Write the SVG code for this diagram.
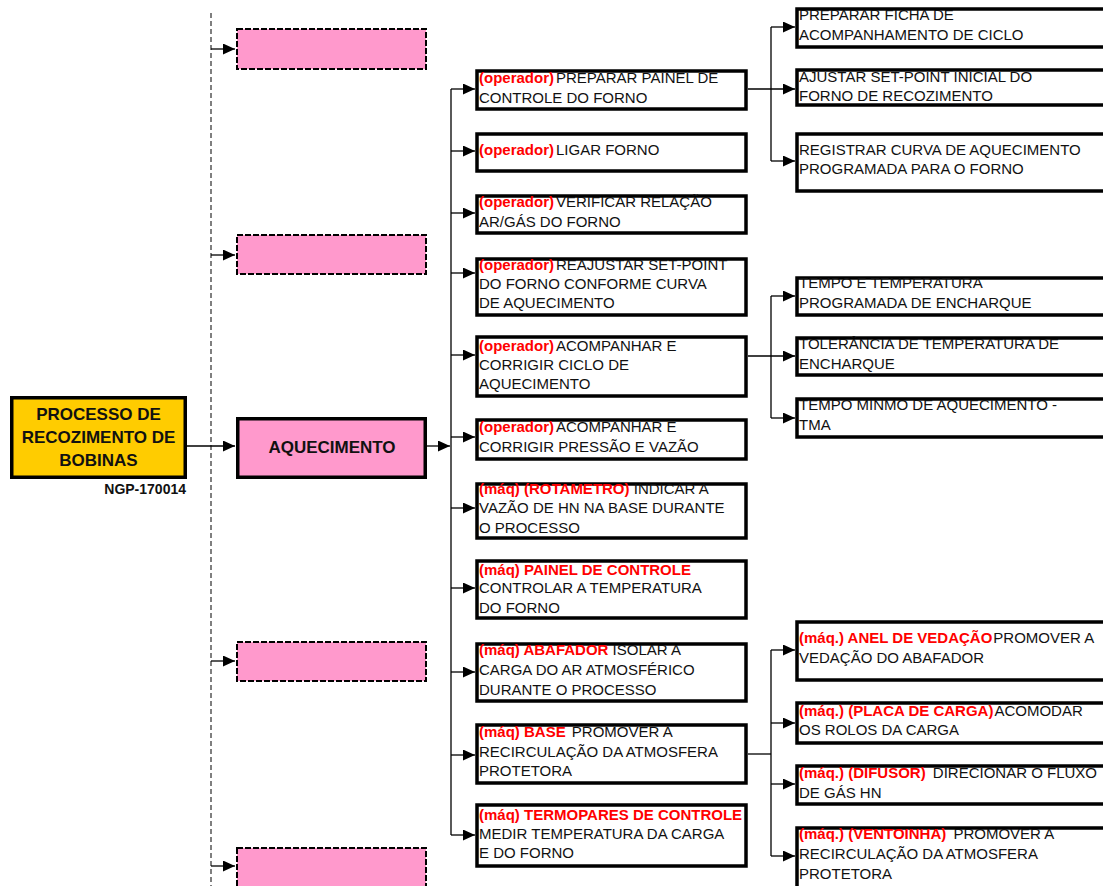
<svg xmlns="http://www.w3.org/2000/svg" width="1103" height="886" viewBox="0 0 1103 886">
<style>
text{font-family:"Liberation Sans",Arial,sans-serif;font-size:15px;fill:#111}
.r{fill:#f00;font-weight:bold}
.big{font-size:17px;font-weight:bold;text-anchor:middle;fill:#111}
.box{fill:#fff;stroke:#000;stroke-width:3.5}
.pink{fill:#ff99cc;stroke:#000;stroke-width:2;stroke-dasharray:6 2}
.c{stroke:#000;stroke-width:1.3;fill:none}
.ca{stroke:#000;stroke-width:1.3;fill:none;marker-end:url(#ah)}
</style>
<defs>
<marker id="ah" markerUnits="userSpaceOnUse" markerWidth="12" markerHeight="11" refX="12" refY="5.5" orient="auto">
<path d="M0,0 L12,5.5 L0,11 z" fill="#000"/>
</marker>
</defs>
<rect width="1103" height="886" fill="#fff"/>

<g id="connectors">
<line x1="211" y1="13" x2="211" y2="886" stroke="#555" stroke-width="1.5" stroke-dasharray="5 3"/>
<line class="ca" x1="187" y1="446" x2="235" y2="446"/>
<line class="ca" x1="211" y1="49" x2="235" y2="49"/>
<line class="ca" x1="211" y1="255" x2="235" y2="255"/>
<line class="ca" x1="211" y1="661" x2="235" y2="661"/>
<line class="ca" x1="211" y1="866" x2="235" y2="866"/>
<line class="ca" x1="427" y1="446" x2="450" y2="446"/>
<line class="c" x1="451" y1="89" x2="451" y2="835"/>
<line class="ca" x1="451" y1="89" x2="475" y2="89"/>
<line class="ca" x1="451" y1="151" x2="475" y2="151"/>
<line class="ca" x1="451" y1="213" x2="475" y2="213"/>
<line class="ca" x1="451" y1="273" x2="475" y2="273"/>
<line class="ca" x1="451" y1="355" x2="475" y2="355"/>
<line class="ca" x1="451" y1="437" x2="475" y2="437"/>
<line class="ca" x1="451" y1="508" x2="475" y2="508"/>
<line class="ca" x1="451" y1="588" x2="475" y2="588"/>
<line class="ca" x1="451" y1="672" x2="475" y2="672"/>
<line class="ca" x1="451" y1="755" x2="475" y2="755"/>
<line class="ca" x1="451" y1="835" x2="475" y2="835"/>
<line class="ca" x1="748" y1="89" x2="795" y2="89"/>
<line class="c" x1="771" y1="27" x2="771" y2="161"/>
<line class="ca" x1="771" y1="27" x2="795" y2="27"/>
<line class="ca" x1="771" y1="161" x2="795" y2="161"/>
<line class="ca" x1="748" y1="356" x2="795" y2="356"/>
<line class="c" x1="771" y1="296" x2="771" y2="418"/>
<line class="ca" x1="771" y1="296" x2="795" y2="296"/>
<line class="ca" x1="771" y1="418" x2="795" y2="418"/>
<line class="c" x1="748" y1="754" x2="771" y2="754"/>
<line class="c" x1="771" y1="650" x2="771" y2="856"/>
<line class="ca" x1="771" y1="650" x2="795" y2="650"/>
<line class="ca" x1="771" y1="723" x2="795" y2="723"/>
<line class="ca" x1="771" y1="784" x2="795" y2="784"/>
<line class="ca" x1="771" y1="856" x2="795" y2="856"/>
</g>

<g id="root">
<rect x="11.75" y="397.75" width="173.5" height="79.5" fill="#ffcc00" stroke="#000" stroke-width="3.5"/>
<text class="big" x="98.5" y="420">PROCESSO DE</text>
<text class="big" x="98.5" y="443">RECOZIMENTO DE</text>
<text class="big" x="98.5" y="466">BOBINAS</text>
<text x="186" y="494" style="font-size:14px;font-weight:bold;text-anchor:end">NGP-170014</text>
</g>

<g id="pink1"><rect class="pink" x="237" y="29" width="189" height="40"/></g>
<g id="pink2"><rect class="pink" x="237" y="235" width="189" height="39"/></g>
<g id="pink3"><rect class="pink" x="237" y="642" width="189" height="39"/></g>
<g id="pink4"><rect class="pink" x="237" y="848" width="189" height="42"/></g>

<g id="aquecimento">
<rect x="237.75" y="418.75" width="187.5" height="58.5" fill="#ff99cc" stroke="#000" stroke-width="3.5"/>
<text class="big" x="332" y="453">AQUECIMENTO</text>
</g>

<g id="m1"><rect class="box" x="477" y="71" width="269" height="38"/>
<text x="479" y="83"><tspan class="r">(operador)</tspan><tspan dx="2">PREPARAR PAINEL DE</tspan></text>
<text x="479" y="103">CONTROLE DO FORNO</text></g>
<g id="m2"><rect class="box" x="477" y="134" width="269" height="37"/>
<text x="479" y="155"><tspan class="r">(operador)</tspan><tspan dx="2">LIGAR FORNO</tspan></text></g>
<g id="m3"><rect class="box" x="477" y="196" width="269" height="37"/>
<text x="479" y="207"><tspan class="r">(operador)</tspan><tspan dx="2">VERIFICAR RELAÇÃO</tspan></text>
<text x="479" y="227">AR/GÁS DO FORNO</text></g>
<g id="m4"><rect class="box" x="477" y="259" width="269" height="56"/>
<text x="479" y="270"><tspan class="r">(operador)</tspan><tspan dx="2">REAJUSTAR SET-POINT</tspan></text>
<text x="479" y="289">DO FORNO CONFORME CURVA</text>
<text x="479" y="308">DE AQUECIMENTO</text></g>
<g id="m5"><rect class="box" x="477" y="337" width="269" height="59"/>
<text x="479" y="351"><tspan class="r">(operador)</tspan><tspan dx="2">ACOMPANHAR E</tspan></text>
<text x="479" y="370">CORRIGIR CICLO DE</text>
<text x="479" y="389">AQUECIMENTO</text></g>
<g id="m6"><rect class="box" x="477" y="420" width="269" height="39"/>
<text x="479" y="432"><tspan class="r">(operador)</tspan><tspan dx="2">ACOMPANHAR E</tspan></text>
<text x="479" y="452">CORRIGIR PRESSÃO E VAZÃO</text></g>
<g id="m7"><rect class="box" x="477" y="484" width="269" height="54"/>
<text x="479" y="494"><tspan class="r">(máq) (ROTAMETRO)</tspan><tspan> INDICAR A</tspan></text>
<text x="479" y="513">VAZÃO DE HN NA BASE DURANTE</text>
<text x="479" y="533">O PROCESSO</text></g>
<g id="m8"><rect class="box" x="477" y="561" width="269" height="57"/>
<text x="479" y="575"><tspan class="r">(máq) PAINEL DE CONTROLE</tspan></text>
<text x="479" y="593">CONTROLAR A TEMPERATURA</text>
<text x="479" y="613">DO FORNO</text></g>
<g id="m9"><rect class="box" x="477" y="644" width="269" height="57"/>
<text x="479" y="655"><tspan class="r">(máq) ABAFADOR</tspan><tspan> ISOLAR A</tspan></text>
<text x="479" y="675">CARGA DO AR ATMOSFÉRICO</text>
<text x="479" y="695">DURANTE O PROCESSO</text></g>
<g id="m10"><rect class="box" x="477" y="725" width="269" height="58"/>
<text x="479" y="737"><tspan class="r">(máq) BASE</tspan><tspan dx="2"> PROMOVER A</tspan></text>
<text x="479" y="757">RECIRCULAÇÃO DA ATMOSFERA</text>
<text x="479" y="776">PROTETORA</text></g>
<g id="m11"><rect class="box" x="477" y="805" width="269" height="61"/>
<text x="479" y="820"><tspan class="r">(máq) TERMOPARES DE CONTROLE</tspan></text>
<text x="479" y="839">MEDIR TEMPERATURA DA CARGA</text>
<text x="479" y="858">E DO FORNO</text></g>

<g id="r1"><rect class="box" x="797" y="9" width="320" height="38"/>
<text x="799" y="20">PREPARAR FICHA DE</text>
<text x="799" y="40">ACOMPANHAMENTO DE CICLO</text></g>
<g id="r2"><rect class="box" x="797" y="70" width="320" height="35"/>
<text x="799" y="82">AJUSTAR SET-POINT INICIAL DO</text>
<text x="799" y="101">FORNO DE RECOZIMENTO</text></g>
<g id="r3"><rect class="box" x="797" y="134" width="320" height="57"/>
<text x="799" y="155">REGISTRAR CURVA DE AQUECIMENTO</text>
<text x="799" y="174">PROGRAMADA PARA O FORNO</text></g>
<g id="r4"><rect class="box" x="797" y="278" width="320" height="37"/>
<text x="799" y="288">TEMPO E TEMPERATURA</text>
<text x="799" y="308">PROGRAMADA DE ENCHARQUE</text></g>
<g id="r5"><rect class="box" x="797" y="338" width="320" height="37"/>
<text x="799" y="349">TOLERÂNCIA DE TEMPERATURA DE</text>
<text x="799" y="369">ENCHARQUE</text></g>
<g id="r6"><rect class="box" x="797" y="399" width="320" height="38"/>
<text x="799" y="410">TEMPO MINMO DE AQUECIMENTO -</text>
<text x="799" y="430">TMA</text></g>
<g id="r7"><rect class="box" x="797" y="622" width="320" height="58"/>
<text x="799" y="643"><tspan class="r">(máq.) ANEL DE VEDAÇÃO</tspan><tspan dx="1">PROMOVER A</tspan></text>
<text x="799" y="663">VEDAÇÃO DO ABAFADOR</text></g>
<g id="r8"><rect class="box" x="797" y="703" width="320" height="40"/>
<text x="799" y="716"><tspan class="r">(máq.) (PLACA DE CARGA)</tspan><tspan dx="1">ACOMODAR</tspan></text>
<text x="799" y="735">OS ROLOS DA CARGA</text></g>
<g id="r9"><rect class="box" x="797" y="766" width="320" height="38"/>
<text x="799" y="778"><tspan class="r">(máq.) (DIFUSOR)</tspan><tspan dx="3"> DIRECIONAR O FLUXO</tspan></text>
<text x="799" y="798">DE GÁS HN</text></g>
<g id="r10"><rect class="box" x="797" y="828" width="320" height="70"/>
<text x="799" y="839"><tspan class="r">(máq.) (VENTOINHA)</tspan><tspan dx="3"> PROMOVER A</tspan></text>
<text x="799" y="859">RECIRCULAÇÃO DA ATMOSFERA</text>
<text x="799" y="879">PROTETORA</text></g>
</svg>
